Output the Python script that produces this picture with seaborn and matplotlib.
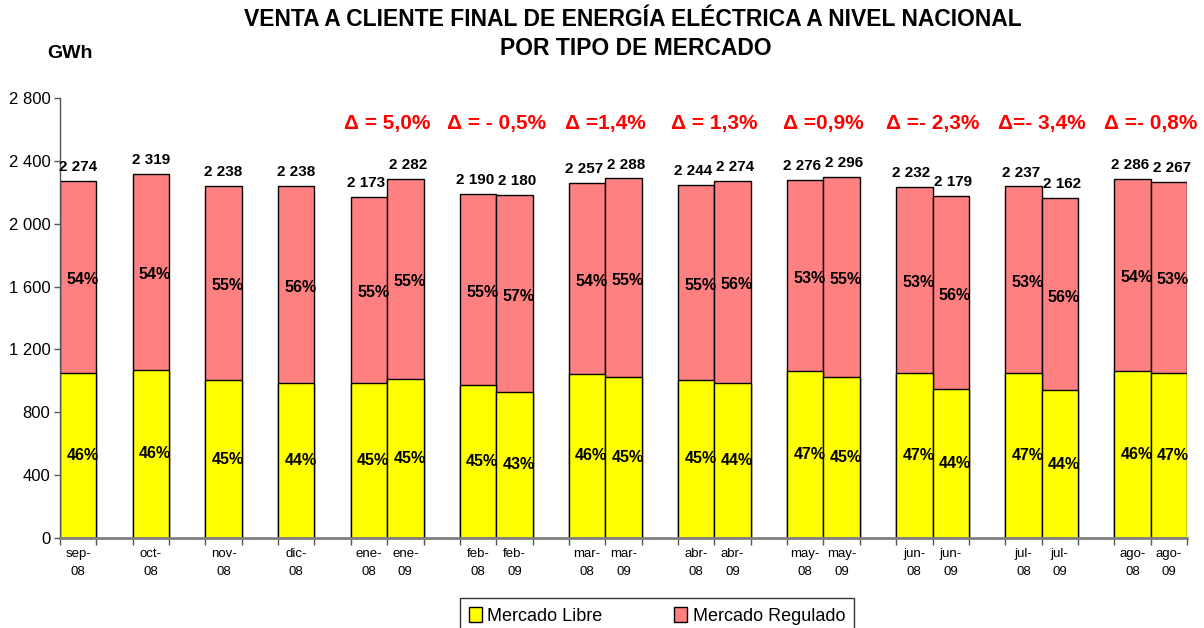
import matplotlib
matplotlib.use("Agg")
import matplotlib.pyplot as plt
from matplotlib.patches import Patch
from matplotlib.ticker import FixedLocator, FuncFormatter
import pandas as pd
import seaborn as sns

sns.set_style("white")
plt.rcParams["font.family"] = ["Liberation Sans", "DejaVu Sans"]
plt.rcParams["text.color"] = "black"
plt.rcParams["xtick.color"] = "black"
plt.rcParams["ytick.color"] = "black"

# bars grouped as in the source: four single months, then pairs 2008 / 2009
group_sizes = [1, 1, 1, 1, 2, 2, 2, 2, 2, 2, 2, 2]
months = ["sep-08", "oct-08", "nov-08", "dic-08",
          "ene-08", "ene-09", "feb-08", "feb-09", "mar-08", "mar-09",
          "abr-08", "abr-09", "may-08", "may-09", "jun-08", "jun-09",
          "jul-08", "jul-09", "ago-08", "ago-09"]
total = [2274, 2319, 2238, 2238, 2173, 2282, 2190, 2180, 2257, 2288,
         2244, 2274, 2276, 2296, 2232, 2179, 2237, 2162, 2286, 2267]
libre = [1053, 1071, 1005, 986, 986, 1014, 975, 931, 1044, 1023,
         1006, 987, 1062, 1023, 1053, 949, 1053, 940, 1062, 1053]
pct_libre = [46, 46, 45, 44, 45, 45, 45, 43, 46, 45,
             45, 44, 47, 45, 47, 44, 47, 44, 46, 47]
pct_regulado = [54, 54, 55, 56, 55, 55, 55, 57, 54, 55,
                55, 56, 53, 55, 53, 56, 53, 56, 54, 53]
deltas = ["Δ = 5,0%", "Δ = - 0,5%", "Δ =1,4%", "Δ = 1,3%",
          "Δ =0,9%", "Δ =- 2,3%", "Δ=- 3,4%", "Δ =- 0,8%"]

YELLOW = "#FFFF00"
SALMON = "#FF8080"

# one slot per bar, one empty slot after every group
slots = []
nudges = []  # push the two total labels of a pair slightly apart
pos = 0
for size in group_sizes:
    slots.extend(range(pos, pos + size))
    nudges.extend([0] if size == 1 else [-2, 2])
    pos += size + 1
n_slots = pos - 1

df = pd.DataFrame({"slot": slots, "month": months, "total": total,
                   "libre": libre})

fig, ax = plt.subplots(figsize=(12.04, 6.28), dpi=100)
fig.subplots_adjust(left=60 / 1204, right=1187 / 1204,
                    bottom=1 - 538 / 628, top=1 - 98 / 628)

sns.barplot(data=df, x="slot", y="total", native_scale=True, width=1,
            color=SALMON, saturation=1, edgecolor="black", linewidth=1,
            errorbar=None, ax=ax)
sns.barplot(data=df, x="slot", y="libre", native_scale=True, width=1,
            color=YELLOW, saturation=1, edgecolor="black", linewidth=1,
            errorbar=None, ax=ax)

ax.set_xlim(-0.5, n_slots - 0.5)
ax.set_ylim(0, 2800)
ax.set_xlabel("")
ax.set_ylabel("")

# x axis: labels under the bars, tick marks at every slot edge
ax.xaxis.set_major_locator(FixedLocator(slots))
ax.set_xticklabels([m.replace("-", "-\n") for m in months],
                   fontsize=9.5, linespacing=1.75)
ax.xaxis.set_minor_locator(FixedLocator([s - 0.5 for s in range(n_slots + 1)]))
ax.tick_params(axis="x", which="major", length=0, pad=7)
ax.tick_params(axis="x", which="minor", length=5, width=1, color="#555555",
               direction="out", bottom=True)

ax.set_yticks(range(0, 2801, 400))
ax.yaxis.set_major_formatter(FuncFormatter(lambda v, p: f"{int(v):,}".replace(",", " ")))
ax.tick_params(axis="y", length=4, width=1, color="#555555", direction="out",
               left=True, labelsize=12, pad=3)

for side in ["top", "right"]:
    ax.spines[side].set_visible(False)
ax.spines["left"].set_color("#555555")
ax.spines["left"].set_linewidth(1)
ax.spines["bottom"].set_color("#808080")
ax.spines["bottom"].set_linewidth(2)

# value labels
for s, t, lib, pl, pr, dx in zip(slots, total, libre, pct_libre,
                                 pct_regulado, nudges):
    ax.annotate(f"{t:,}".replace(",", " "), (s, t), xytext=(dx, 5),
                textcoords="offset points", ha="center", va="bottom",
                fontsize=11, fontweight="bold")
    ax.annotate(f"{pr}%", (s, (t + lib) / 2), xytext=(3, -2),
                textcoords="offset points", ha="center", va="center",
                fontsize=11.5, fontweight="bold")
    ax.annotate(f"{pl}%", (s, lib / 2), xytext=(3, 0),
                textcoords="offset points", ha="center", va="center",
                fontsize=11.5, fontweight="bold")

# year-on-year change above each pair
pair_slots = [slots[i:i + 2] for i in range(4, len(slots), 2)]
for pair, d in zip(pair_slots, deltas):
    ax.text(sum(pair) / 2, 2640, d, ha="center", va="center", color="red",
            fontsize=15, fontweight="bold")

fig.text(0.526, 0.969, "VENTA A CLIENTE FINAL DE ENERGÍA ELÉCTRICA A NIVEL NACIONAL",
         ha="center", va="center", fontsize=16.5, fontweight="bold")
fig.text(0.528, 0.922, "POR TIPO DE MERCADO", ha="center", va="center",
         fontsize=16.5, fontweight="bold")
fig.text(0.058, 0.915, "GWh", ha="center", va="center", fontsize=14,
         fontweight="bold")

handles = [Patch(facecolor=YELLOW, edgecolor="black", label="Mercado Libre"),
           Patch(facecolor=SALMON, edgecolor="black", label="Mercado Regulado")]
fig.legend(handles=handles, loc="upper center", ncol=2,
           bbox_to_anchor=(657 / 1204, 1 - 598 / 628), frameon=True,
           fancybox=False, edgecolor="black", fontsize=13,
           handlelength=0.7, handleheight=0.9, handletextpad=0.3,
           columnspacing=4, borderpad=0.5, borderaxespad=0)

fig.savefig("out.png", dpi=100, facecolor="white")
